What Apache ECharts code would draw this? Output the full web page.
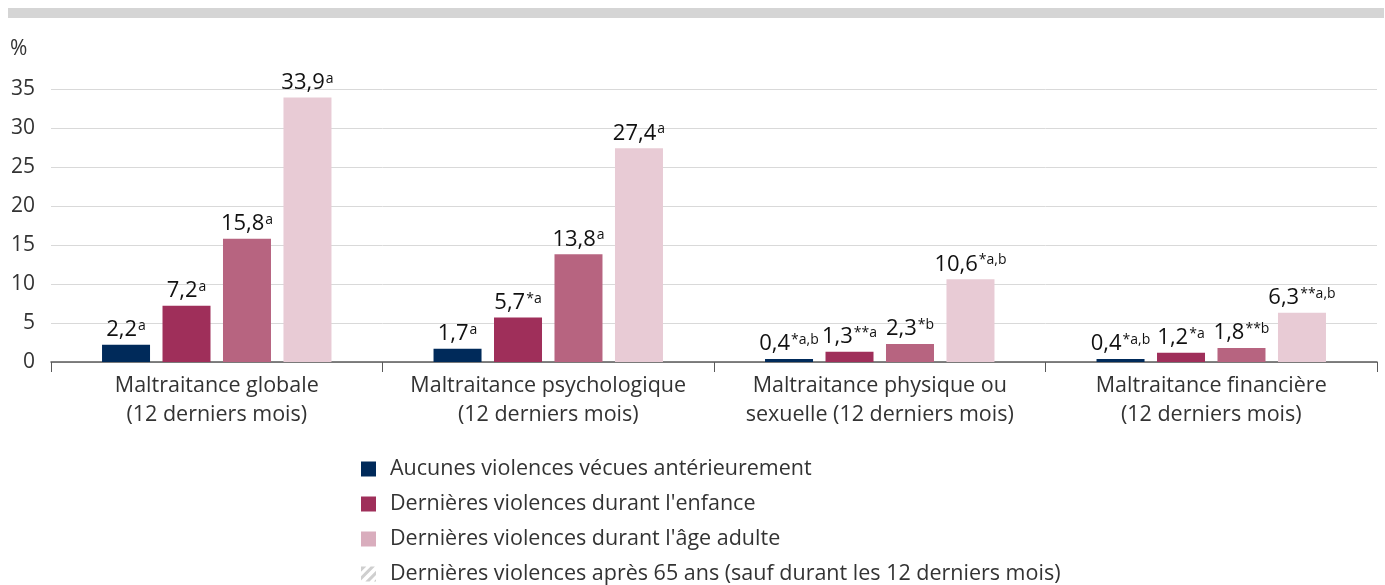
<html>
  <head>
    <meta charset="utf-8">
    <title>Maltraitance</title>
    <script src="https://cdn.jsdelivr.net/npm/echarts@6.0.0/dist/echarts.min.js"></script>
    <style>
      html, body { margin: 0; padding: 0; background: #fff; }
      #main { width: 1385px; height: 585px; }
    </style>
  </head>
  <body>
    <div id="main"></div>
    <script type="text/javascript">
      var categories = ['Maltraitance globale\n(12 derniers mois)', 'Maltraitance psychologique\n(12 derniers mois)', 'Maltraitance physique ou\nsexuelle (12 derniers mois)', 'Maltraitance financière\n(12 derniers mois)'];
      var names = ['Aucunes violences vécues antérieurement', "Dernières violences durant l'enfance", "Dernières violences durant l'âge adulte", 'Dernières violences après 65 ans (sauf durant les 12 derniers mois)'];
      var aucunes = [2.2, 1.7, 0.4, 0.4];
      var enfance = [7.2, 5.7, 1.3, 1.2];
      var adulte = [15.8, 13.8, 2.3, 1.8];
      var apres65 = [33.9, 27.4, 10.6, 6.3];
      var notesAucunes = ['a', 'a', '*a,b', '*a,b'];
      var notesEnfance = ['a', '*a', '**a', '*a'];
      var notesAdulte = ['a', 'a', '*b', '**b'];
      var notesApres65 = ['a', 'a', '*a,b', '**a,b'];
      var barColors = ['#002a5a', '#9f2f5a', '#b76480', '#e8cbd5'];

      var chartDom = document.getElementById('main');
      var myChart = echarts.init(chartDom);
      var font = '"Open Sans", "Noto Sans", sans-serif';

      function makeSeries(i, values, notes) {
        return {
          name: names[i],
          type: 'bar',
          barWidth: 48,
          barGap: '26%',
          itemStyle: { color: barColors[i] },
          label: {
            show: true,
            position: 'top',
            distance: 4,
            formatter: function (p) {
              return '{v|' + String(p.value).replace('.', ',') + '}{s|' + notes[p.dataIndex] + '}';
            },
            rich: {
              v: { fontSize: 22, color: '#111', fontFamily: font, lineHeight: 26, verticalAlign: 'bottom' },
              s: { fontSize: 14, color: '#111', fontFamily: font, verticalAlign: 'middle', padding: [0, 0, 4, 1] }
            }
          },
          data: values
        };
      }

      var option = {
        animation: false,
        textStyle: { fontFamily: font },
        graphic: [
          { type: 'rect', shape: { x: 8, y: 8, width: 1376, height: 10 }, style: { fill: '#d5d5d5' } }
        ],
        legend: {
          orient: 'vertical',
          left: 356,
          top: 453,
          height: 220,
          itemWidth: 15,
          itemHeight: 15,
          itemGap: 13,
          textStyle: { fontSize: 21.5, color: '#333', fontFamily: font, padding: [0, 0, 0, 9] },
          data: [
            { name: names[0], icon: 'rect', itemStyle: { color: '#002a5a' } },
            { name: names[1], icon: 'rect', itemStyle: { color: '#9f2f5a' } },
            { name: names[2], icon: 'rect', itemStyle: { color: '#d9adbd' } },
            { name: names[3], icon: 'path://M0,0L5,0L0,5Z M0,9L9,0L13,0L0,13Z M4,14L14,4L14,8L8,14Z M12,14L14,12L14,14Z', itemStyle: { color: '#cfcfcf' } }
          ]
        },
        grid: { left: 51, right: 8, top: 89, bottom: 223 },
        xAxis: {
          type: 'category',
          data: categories,
          axisLine: { lineStyle: { color: '#595959', width: 1.5 } },
          axisTick: { show: true, length: 10, interval: 0, lineStyle: { color: '#595959' } },
          axisLabel: { fontSize: 21.5, color: '#333', fontFamily: font, lineHeight: 29, margin: 9, interval: 0 }
        },
        yAxis: {
          type: 'value',
          min: 0,
          max: 35,
          interval: 5,
          name: '%',
          nameLocation: 'end',
          nameGap: 40,
          nameTextStyle: { fontSize: 21, color: '#333', fontFamily: font, align: 'left', verticalAlign: 'middle', padding: [0, 0, 0, -41] },
          axisLabel: { fontSize: 21, color: '#333', fontFamily: font, margin: 16 },
          splitLine: { lineStyle: { color: '#d9d9d9' } }
        },
        series: [
          makeSeries(0, aucunes, notesAucunes),
          makeSeries(1, enfance, notesEnfance),
          makeSeries(2, adulte, notesAdulte),
          makeSeries(3, apres65, notesApres65)
        ]
      };

      option && myChart.setOption(option);
    </script>
  </body>
</html>
